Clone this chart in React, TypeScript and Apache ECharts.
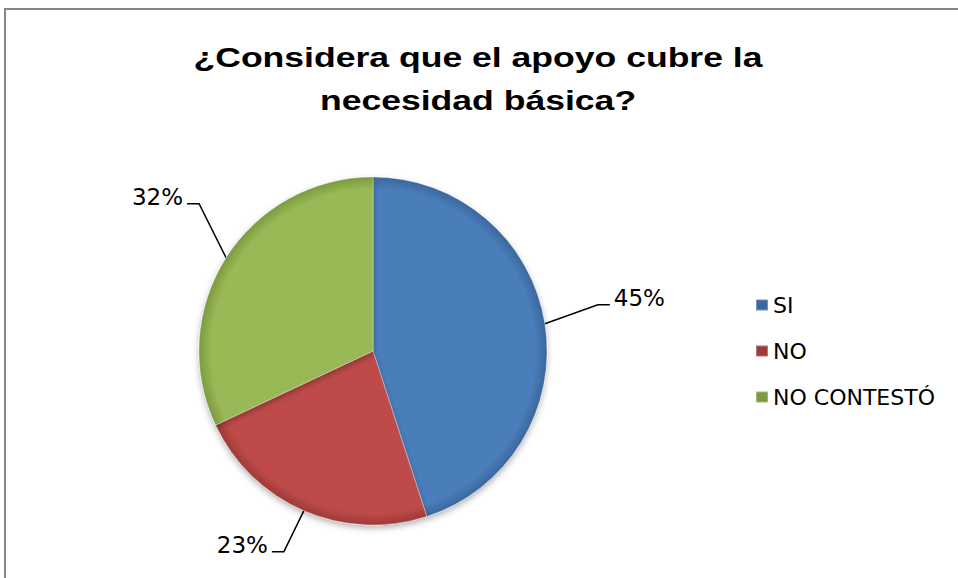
import React, { useEffect, useRef } from "react";
import * as echarts from "echarts";

const titleLines = ["¿Considera que el apoyo cubre la", "necesidad básica?"];
const categories = ["SI", "NO", "NO CONTESTÓ"];
const values = [45, 23, 32];
const colors = ["#4a7ebb", "#be4b48", "#98b954"];
const edgeColors = ["#3b679c", "#9e3a38", "#7c9a41"];

// leader-line elbow offsets from the slice edge (layout, not data)
const elbowOffsets = [
  [53, -19],
  [-20, 41],
  [-27, -54],
];

const CX = 373;
const CY = 351;
const R = 174;

export default function App() {
  const ref = useRef<HTMLDivElement>(null);
  useEffect(() => {
    document.body.style.margin = "0";
    const chart = echarts.init(ref.current!, null, { renderer: "svg" });
    const font = "'Liberation Sans', Arial, sans-serif";
    const labelFont = "'DejaVu Sans', sans-serif";
    const total = values.reduce((a, b) => a + b, 0);
    let acc = 0;
    const mids = values.map((v) => {
      const m = (acc + v / 2) / total;
      acc += v;
      return m * Math.PI * 2;
    });
    chart.setOption({
      animation: false,
      backgroundColor: "#ffffff",
      legend: {
        orient: "vertical",
        left: 750,
        top: 288,
        icon: "rect",
        itemWidth: 12,
        itemHeight: 11,
        itemGap: 22,
        textStyle: { fontFamily: labelFont, fontSize: 22, color: "#000", lineHeight: 24 },
        data: categories,
      },
      graphic: [
        {
          type: "rect",
          shape: { x: 5, y: 9, width: 1000, height: 700 },
          style: { fill: "none", stroke: "#868686", lineWidth: 2 },
          silent: true,
          z: 100,
        },
        ...titleLines.map((t, i) => ({
          type: "text",
          x: 478,
          y: 57 + i * 43,
          scaleX: 1.27,
          style: {
            text: t,
            align: "center",
            verticalAlign: "middle",
            fontFamily: font,
            fontSize: 28,
            fontWeight: "bold",
            fill: "#000",
          },
        })),
      ],
      series: [
        {
          type: "pie",
          center: [CX, CY],
          radius: R,
          startAngle: 90,
          clockwise: true,
          data: categories.map((c, i) => ({
            name: c,
            value: values[i],
            itemStyle: {
              color: {
                type: "radial",
                x: CX,
                y: CY,
                r: R,
                global: true,
                colorStops: [
                  { offset: 0, color: colors[i] },
                  { offset: 0.93, color: colors[i] },
                  { offset: 1, color: edgeColors[i] },
                ],
              },
            },
          })),
          itemStyle: {
            borderColor: "rgba(255,255,255,0.3)",
            borderWidth: 1,
            shadowColor: "rgba(0,0,0,0.3)",
            shadowBlur: 6,
            shadowOffsetY: 3,
          },
          label: {
            show: true,
            formatter: "{d}%",
            fontFamily: labelFont,
            fontSize: 23,
            color: "#000",
          },
          labelLine: {
            show: true,
            length: 40,
            length2: 12,
            lineStyle: { color: "#000", width: 1.5 },
          },
          labelLayout: (p: any) => {
            const i = p.dataIndex;
            const th = mids[i];
            const ex = CX + R * Math.sin(th);
            const ey = CY - R * Math.cos(th);
            const [dx, dy] = elbowOffsets[i];
            const bx = ex + dx;
            const by = ey + dy;
            const side = Math.sin(th) >= 0 ? 1 : -1;
            const hx = bx + side * 12;
            return {
              x: hx + side * 4,
              y: by - 7,
              align: side > 0 ? "left" : "right",
              verticalAlign: "middle",
              labelLinePoints: [
                [ex, ey],
                [bx, by],
                [hx, by],
              ],
            };
          },
        },
      ],
    });
    return () => chart.dispose();
  }, []);
  return (
    <div
      ref={ref}
      style={{ position: "fixed", left: 0, top: 0, width: 958, height: 578 }}
    />
  );
}
